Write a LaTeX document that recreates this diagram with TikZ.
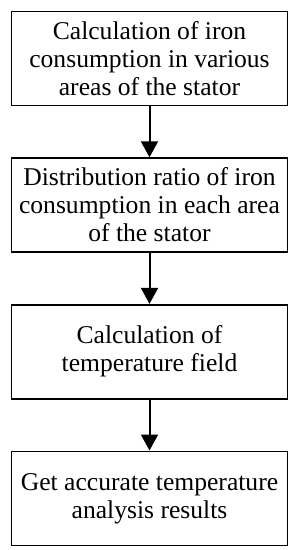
\documentclass[tikz,border=0pt]{standalone}
\usepackage{fontspec}
\setmainfont{Liberation Serif}
\usepackage{tikz}
\usetikzlibrary{arrows.meta,positioning}

\begin{document}
\begin{tikzpicture}[
    node distance=25.5pt,
    stepbox/.style={rectangle, draw, line width=0.8pt, minimum width=138pt, minimum height=47pt,
                    align=center, font=\fontsize{12.8}{14}\selectfont},
    arr/.style={line width=1pt, -{Triangle[length=8pt, width=8.5pt]}}
]
  \useasboundingbox (0,0) rectangle (149.5pt,-275pt);

  \node[stepbox] (calc)  at (74.75pt,-29.25pt) {Calculation of iron\\consumption in various\\areas of the stator};
  \node[stepbox, below=of calc]  (ratio) {Distribution ratio of iron\\consumption in each area\\of the stator};
  \node[stepbox, below=of ratio] (temp)  {Calculation of\\temperature field};
  \node[stepbox, below=of temp]  (res)   {Get accurate temperature\\analysis results};

  \draw[arr] (calc)  -- (ratio);
  \draw[arr] (ratio) -- (temp);
  \draw[arr] (temp)  -- (res);
\end{tikzpicture}
\end{document}
